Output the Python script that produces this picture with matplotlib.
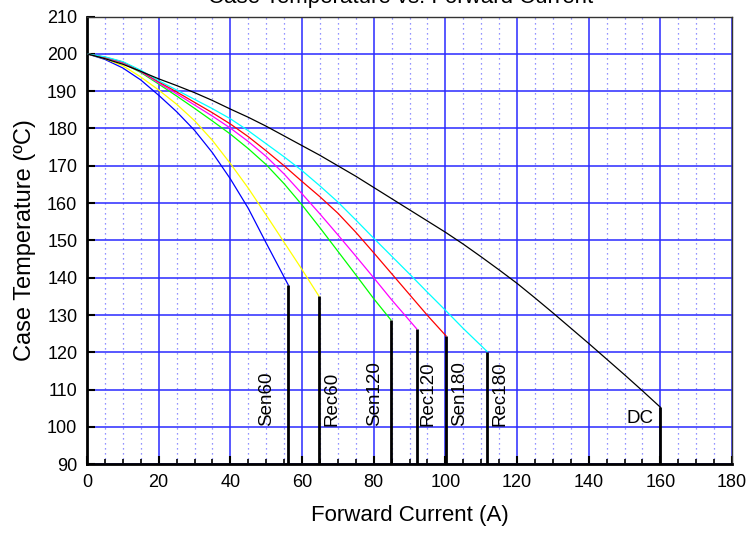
import matplotlib
matplotlib.use("Agg")
import matplotlib.pyplot as plt
from matplotlib.ticker import MultipleLocator

plt.rcParams['font.family'] = ['Liberation Sans', 'DejaVu Sans']

# ---- data ----
series_names = ["Sen60", "Rec60", "Sen120", "Rec120", "Sen180", "Rec180", "DC"]
series_colors = ["#0000ff", "#ffff00", "#00ff00", "#ff00ff", "#ff0000", "#00ffff", "#000000"]

sen60_x = [0, 5, 10, 15, 20, 25, 30, 35, 40, 45, 50, 56.2]
sen60_y = [200, 198.5, 196.2, 193.0, 188.9, 184.5, 179.5, 173.5, 166.5, 158.6, 149.3, 138.0]

rec60_x = [0, 5, 10, 15, 20, 25, 30, 35, 40, 45, 50, 55, 60, 64.7]
rec60_y = [200, 198.7, 196.8, 193.8, 190.3, 186.5, 182.1, 176.8, 170.6, 164.0, 156.8,
           149.5, 142.2, 135.1]

sen120_x = [0, 5, 10, 15, 20, 25, 30, 35, 40, 45, 50, 55, 60, 65, 70, 75, 80, 84.8]
sen120_y = [200, 199.0, 197.5, 195.0, 191.9, 188.7, 185.4, 182.0, 178.5, 174.6, 170.3,
            165.2, 159.5, 153.4, 147.1, 140.8, 134.4, 128.7]

rec120_x = [0, 5, 10, 15, 20, 25, 30, 35, 40, 45, 50, 55, 60, 65, 70, 75, 80, 85, 92.0]
rec120_y = [200, 199.0, 197.6, 195.2, 192.2, 189.3, 186.3, 183.3, 180.1, 176.5, 172.5,
            167.8, 162.5, 157.1, 151.5, 145.8, 140.0, 134.1, 126.3]

sen180_x = [0, 5, 10, 15, 20, 25, 30, 35, 40, 45, 50, 55, 60, 65, 70, 75, 80, 85, 90, 95, 100.2]
sen180_y = [200, 199.1, 197.8, 195.4, 192.5, 189.8, 187.0, 184.2, 181.2, 177.8, 174.0,
            170.0, 165.8, 161.7, 157.3, 152.2, 146.7, 141.1, 135.5, 129.9, 124.4]

rec180_x = [0, 5, 10, 15, 20, 25, 30, 35, 40, 45, 50, 55, 60, 65, 70, 75, 80, 85, 90,
            95, 100, 105, 111.7]
rec180_y = [200, 199.2, 197.9, 195.6, 192.8, 190.3, 187.8, 185.3, 182.6, 179.4, 175.9,
            172.4, 168.7, 164.6, 160.3, 155.5, 150.6, 145.8, 141.0, 136.1, 131.3, 126.4, 120.2]

dc_x = [0, 5, 10, 15, 20, 25, 30, 35, 40, 45, 50, 55, 60, 65, 70, 75, 80, 85, 90, 95,
        100, 105, 110, 115, 120, 125, 130, 135, 140, 145, 150, 155, 160]
dc_y = [200, 198.7, 197.2, 195.3, 193.3, 191.5, 189.6, 187.5, 185.2, 183.0, 180.6,
        178.0, 175.4, 172.8, 170.0, 167.2, 164.2, 161.2, 158.2, 155.2, 152.2, 149.0,
        145.6, 142.1, 138.5, 134.6, 130.6, 126.5, 122.4, 118.2, 114.0, 109.7, 105.3]

xs = [sen60_x, rec60_x, sen120_x, rec120_x, sen180_x, rec180_x, dc_x]
ys = [sen60_y, rec60_y, sen120_y, rec120_y, sen180_y, rec180_y, dc_y]

# label anchor positions (x) in data coords
label_pos_x = [50.0, 68.3, 80.4, 95.3, 104.1, 115.3]
label_pos_y = 100.3

fig = plt.figure(figsize=(7.48, 5.33), dpi=100)
ax = fig.add_axes([87/748, 1 - 464.3/533, (732 - 87)/748, (464.3 - 16.5)/533])

ax.set_xlim(0, 180)
ax.set_ylim(90, 210)
ax.xaxis.set_major_locator(MultipleLocator(20))
ax.xaxis.set_minor_locator(MultipleLocator(5))
ax.yaxis.set_major_locator(MultipleLocator(10))

ax.grid(which='major', axis='both', color='#2a2aff', lw=1.1, zorder=0)
ax.grid(which='minor', axis='x', color='#7070ff', lw=0.9, ls=(0, (1, 3)), zorder=0)
ax.set_axisbelow(True)

for x, y, c in zip(xs, ys, series_colors):
    ax.plot(x, y, color=c, lw=0.9, zorder=3)
    ax.vlines(x[-1], 90, y[-1], color='k', lw=2.0, zorder=4)

for name, lx in zip(series_names[:-1], label_pos_x):
    ax.text(lx, label_pos_y, name, rotation=90, ha='center', va='bottom', fontsize=13.5, zorder=5)
ax.text(158, 102.4, series_names[-1], ha='right', va='center', fontsize=13.5, zorder=5)

ax.tick_params(axis='both', which='major', direction='in', length=6, width=1.5,
               labelsize=13, pad=7, color='k')
ax.tick_params(axis='x', which='minor', direction='in', length=3.5, width=1.2)
ax.tick_params(axis='y', which='minor', length=0)

for s in ['left', 'bottom']:
    ax.spines[s].set_linewidth(2.0)
for s in ['top', 'right']:
    ax.spines[s].set_linewidth(1.0)
    ax.spines[s].set_color('#333333')

ax.set_xlabel('Forward Current (A)', fontsize=16, labelpad=10)
ax.set_ylabel('Case Temperature (ºC)', fontsize=17, labelpad=8)

fig.text(401/748, 1 - 3.5/533, 'Case Temperature vs. Forward Current',
         ha='center', va='baseline', fontsize=16)

fig.savefig('out.png', dpi=100)
